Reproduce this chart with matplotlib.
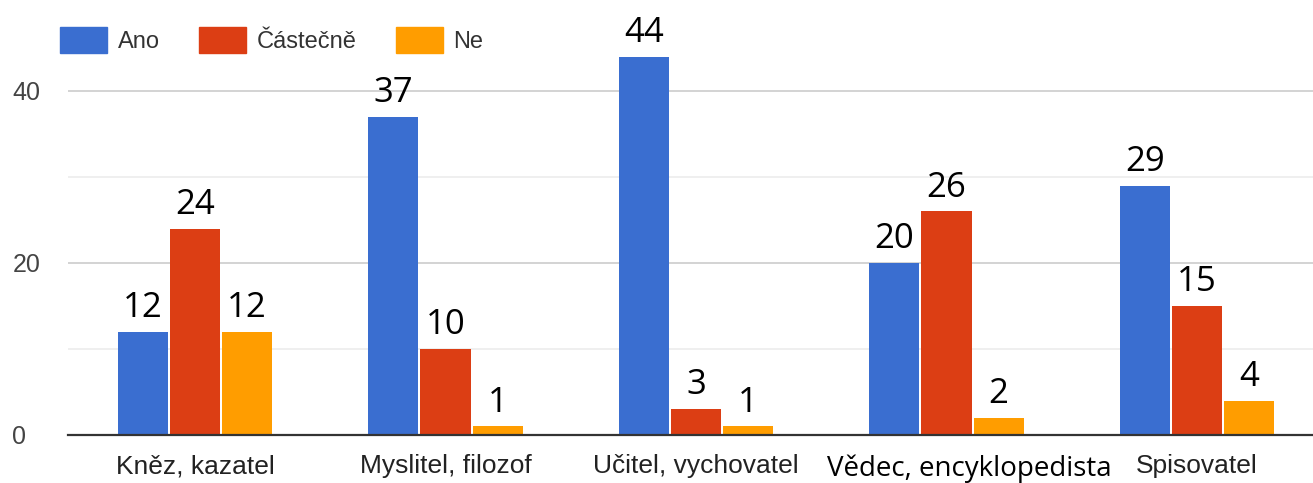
import numpy as np
import matplotlib
matplotlib.use("Agg")
from matplotlib import pyplot as plt
from matplotlib.patches import Patch
from matplotlib.transforms import ScaledTranslation

# data
categories = ["Kněz, kazatel", "Myslitel, filozof", "Učitel, vychovatel",
              "Vědec, encyklopedista", "Spisovatel"]
ano = [12, 37, 44, 20, 29]
castecne = [24, 10, 3, 26, 15]
ne = [12, 1, 1, 2, 4]
series_names = ["Ano", "Částečně", "Ne"]
colors = ["#3a6ed0", "#dc3e14", "#ff9d00"]

fig = plt.figure(figsize=(13.13, 4.83), dpi=100)
ax = fig.add_axes([68/1313, 48/483, 1 - 68/1313, 430/483])

x = np.arange(len(categories))
w = 0.2
step = 0.208
for i, (vals, c) in enumerate(zip([ano, castecne, ne], colors)):
    pos = x + (i - 1) * step
    ax.bar(pos, vals, width=w, color=c, zorder=3)
    for p, v in zip(pos, vals):
        ax.text(p, v + 0.8, str(v), ha="center", va="bottom",
                fontsize=25, family="Open Sans", color="black", zorder=4)

ax.set_xlim(-0.507, 4.463)
ax.set_ylim(0, 50)
ax.set_yticks([0, 20, 40])
ax.set_yticks([10, 30], minor=True)
ax.grid(axis="y", which="major", color="#cccccc", lw=1.2, zorder=0)
ax.grid(axis="y", which="minor", color="#ececec", lw=1.2, zorder=0)
ax.tick_params(axis="y", which="both", length=0, labelsize=18, labelcolor="#444444", pad=40)
ax.set_xticks(x)
ax.set_xticklabels(categories, family="Liberation Sans", fontsize=19, color="#222222")
ax.tick_params(axis="x", length=0, pad=14)
for lab in ax.get_yticklabels():
    lab.set_family("Liberation Sans")
    lab.set_horizontalalignment("left")
# the long label sits a bit to the right in the original
lab = ax.get_xticklabels()[3]
lab.set_family("Open Sans")
lab.set_fontsize(20)
lab.set_color("black")
lab.set_transform(lab.get_transform() + ScaledTranslation(0.23, 0, fig.dpi_scale_trans))
for s in ["top", "right", "left"]:
    ax.spines[s].set_visible(False)
ax.spines["bottom"].set_color("#333333")
ax.spines["bottom"].set_linewidth(1.6)
ax.spines["bottom"].set_zorder(5)

handles = [Patch(color=c, label=n) for c, n in zip(colors, series_names)]
fig.legend(handles=handles, loc="upper left", bbox_to_anchor=(39/1313, 1 - 6/483),
           ncol=3, frameon=False, prop={"family": "Liberation Sans", "size": 17},
           handlelength=2.0, handleheight=1.3, handletextpad=0.45, columnspacing=1.65,
           labelcolor="#333333")

fig.savefig("out.png", dpi=100)
